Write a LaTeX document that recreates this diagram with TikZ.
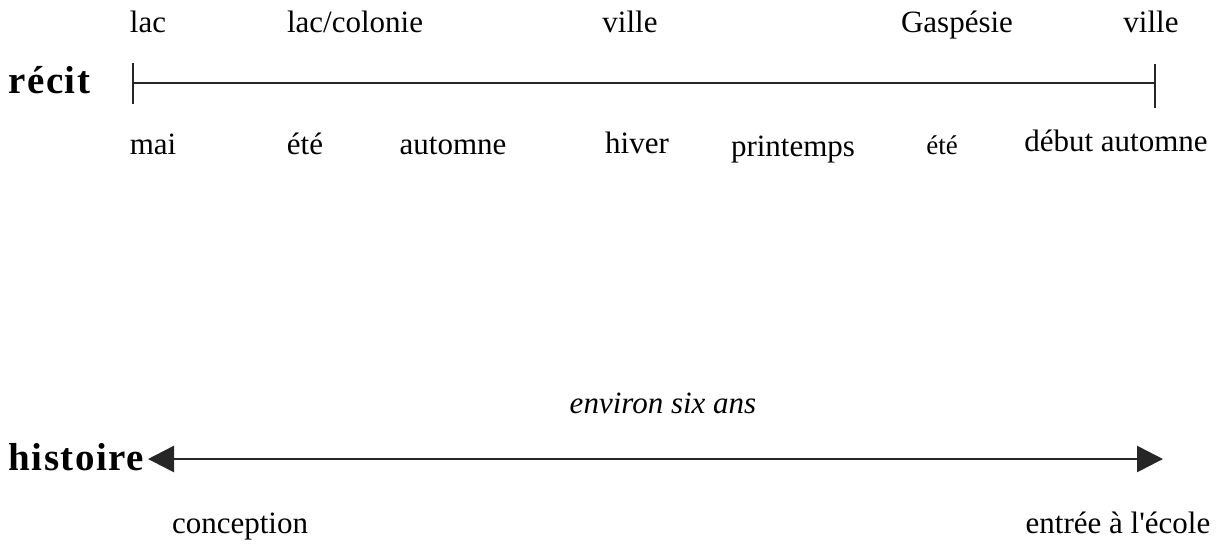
\documentclass[tikz,border=0pt]{standalone}
\usepackage{fontspec}
\setmainfont{Liberation Serif}
\newfontfamily\spacedfont[LetterSpace=4]{Liberation Serif}
\newfontfamily\plainfont[Ligatures=TeXOff]{Liberation Serif}
\usepackage{tikz}
\usetikzlibrary{arrows.meta, positioning}
\tikzset{
  lbl/.style={font=\fontsize{15.5}{18}\selectfont, anchor=base, inner sep=0pt},
  smalllbl/.style={font=\fontsize{13.5}{16}\selectfont, anchor=base, inner sep=0pt},
  ttl/.style={font=\fontsize{19.5}{22}\spacedfont\bfseries, anchor=base west, inner sep=0pt},
  tline/.style={line width=1pt, color=black!85},
  harr/.style={{Triangle[length=13pt, width=13pt]}-{Triangle[length=13pt, width=13pt]},
               line width=1.3pt, color=black!85},
}

\begin{document}
\begin{tikzpicture}[x=0.5pt, y=-0.5pt]
      \useasboundingbox (0,0) rectangle (1225,543);

      % recit
      \node[ttl] (recit) at (8,93) {récit};
      \coordinate (recitL) at (133,83);
      \coordinate (recitR) at (1155,83);
      \draw[tline] (recitL) -- (recitR);
      \draw[tline] ([yshift=-10.5pt]recitL) -- ([yshift=10pt]recitL);
      \draw[tline] ([yshift=-12.5pt]recitR) -- ([yshift=9.5pt]recitR);

      \node[lbl] (lieu1) at (148,32) {lac};
      \node[lbl] (lieu2) at (355,32) {lac/colonie};
      \node[lbl] (lieu3) at (630,32) {ville};
      \node[lbl] (lieu4) at (957,32) {Gaspésie};
      \node[lbl] (lieu5) at (1151,32) {ville};

      \node[lbl] (temps1) at (153,154) {mai};
      \node[lbl] (temps2) at (305,154) {été};
      \node[lbl] (temps3) at (453,154) {automne};
      \node[lbl] (temps4) at (637,153) {hiver};
      \node[lbl] (temps5) at (793,156) {printemps};
      \node[smalllbl] (temps6) at (942,154) {été};
      \node[lbl] (temps7) at (1116,151) {début automne};

      % histoire
      \node[ttl] (histoire) at (8,470) {histoire};
      \coordinate (histL) at (148,459);
      \coordinate (histR) at (1163,459);
      \draw[harr] (histL) -- (histR);

      \node[lbl, font=\fontsize{15.5}{18}\selectfont\itshape] (duree) at (663,413) {environ six ans};
      \node[lbl] (debut) at (240,533) {conception};
      \node[lbl, font=\fontsize{15.5}{18}\plainfont] (fin) at (1118,533) {entrée à l'école};
    \end{tikzpicture}
\end{document}
